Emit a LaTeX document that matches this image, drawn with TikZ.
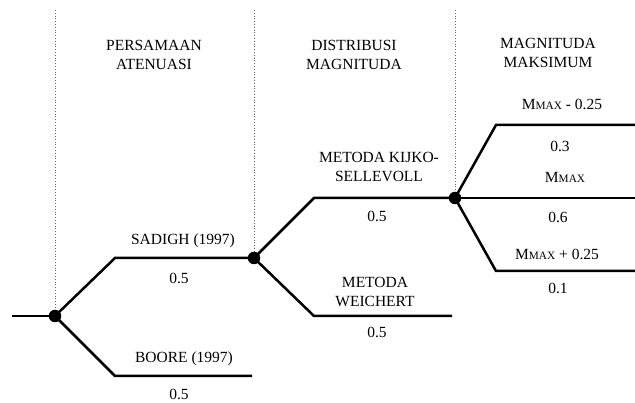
\documentclass[tikz,border=0pt]{standalone}
\usepackage{fontspec}
\setmainfont{Liberation Serif}
\newcommand{\mmx}{M{\fontsize{11.3}{12}\selectfont MAX}}
\begin{document}
\begin{tikzpicture}[x=1pt,y=-1pt,
  branch/.style={line width=2.5pt},
  guide/.style={gray!80!black,line width=0.8pt,dotted},
  junction/.style={circle,fill=black,inner sep=0pt,minimum size=12.5pt},
  lbl/.style={inner sep=0pt,font=\fontsize{15.5}{19}\selectfont,anchor=base},
  head/.style={inner sep=0pt,font=\fontsize{15.5}{19}\selectfont,align=center,anchor=center}]
\useasboundingbox (0,0) rectangle (635,403);
% junction points and ends
\coordinate (s0) at (12,316);
\coordinate (j0) at (55,316);
\coordinate (a1) at (115,258);
\coordinate (j1) at (254,258);
\coordinate (b1) at (115,376);
\coordinate (b2) at (252,376);
\coordinate (k1) at (314,198);
\coordinate (j2) at (455,198);
\coordinate (w1) at (314,316);
\coordinate (w2) at (452,316);
\coordinate (m1) at (496,125);
\coordinate (m1e) at (635,125);
\coordinate (m2e) at (635,198);
\coordinate (m3) at (496,271);
\coordinate (m3e) at (635,271);
\coordinate (t0) at (55,10);
\coordinate (t1) at (254,10);
\coordinate (t2) at (455,10);
% dotted guides
\draw[guide] (t0) -- (j0);
\draw[guide] (t1) -- (j1);
\draw[guide] (t2) -- (j2);
% branches
\draw[branch] (s0) -- (j0);
\draw[branch] (j0) -- (a1) -- (j1);
\draw[branch] (j0) -- (b1) -- (b2);
\draw[branch] (j1) -- (k1) -- (j2);
\draw[branch] (j1) -- (w1) -- (w2);
\draw[branch] (j2) -- (m1) -- (m1e);
\draw[branch] (j2) -- (m2e);
\draw[branch] (j2) -- (m3) -- (m3e);
% junction dots
\node[junction] (d0) at (j0) {};
\node[junction] (d1) at (j1) {};
\node[junction] (d2) at (j2) {};
% headings
\node[head] (h1) at (154,54.5) {PERSAMAAN\\ATENUASI};
\node[head] (h2) at (354,54.5) {DISTRIBUSI\\MAGNITUDA};
\node[head] (h3) at (548,52.5) {MAGNITUDA\\MAKSIMUM};
% labels
\node[lbl] (l1) at (183,245) {SADIGH (1997)};
\node[lbl] (p1) at (179,284) {0.5};
\node[lbl] (l2) at (184,363) {BOORE (1997)};
\node[lbl] (p2) at (179,400) {0.5};
\node[head] (l3) at (379,167) {METODA KIJKO-\\SELLEVOLL};
\node[lbl] (p3) at (377,222) {0.5};
\node[head] (l4) at (375,291.5) {METODA\\WEICHERT};
\node[lbl] (p4) at (377,338) {0.5};
\node[lbl] (l5) at (562,110) {\mmx{} - 0.25};
\node[lbl] (p5) at (560,152) {0.3};
\node[lbl] (l6) at (565,183) {\mmx};
\node[lbl] (p6) at (558,223) {0.6};
\node[lbl] (l7) at (557,260) {\mmx{} + 0.25};
\node[lbl] (p7) at (558,294) {0.1};
\end{tikzpicture}
\end{document}
